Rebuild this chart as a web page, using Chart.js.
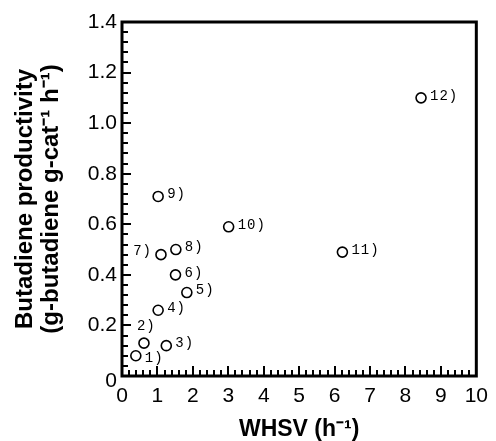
<!DOCTYPE html>
<html>
<head>
<meta charset="utf-8">
<script src="https://cdn.jsdelivr.net/npm/chart.js@4/dist/chart.umd.min.js"></script>
<style>
  html, body { margin: 0; padding: 0; background: #fff; }
  #wrap { width: 496px; height: 441px; }
</style>
</head>
<body>
<div id="wrap"><canvas id="c" width="496" height="441"></canvas></div>
<script>
// ---- data ----
const sampleLabels = ['1)', '2)', '3)', '4)', '5)', '6)', '7)', '8)', '9)', '10)', '11)', '12)'];
const whsv = [0.39, 0.62, 1.25, 1.02, 1.83, 1.51, 1.10, 1.52, 1.02, 3.01, 6.22, 8.44];
const productivity = [0.08, 0.13, 0.12, 0.26, 0.33, 0.40, 0.48, 0.50, 0.71, 0.59, 0.49, 1.10];
const xTicks = [0, 1, 2, 3, 4, 5, 6, 7, 8, 9, 10];
const yTicks = [0, 0.2, 0.4, 0.6, 0.8, 1.0, 1.2, 1.4];

// label placement relative to marker (style only)
const labelPlacement = ['belowRight', 'above', 'right', 'right', 'right', 'right', 'left', 'right', 'right', 'right', 'right', 'right'];

const FONT = '"Liberation Sans", Arial, Helvetica, sans-serif';
const LABEL_FONT = '14px "Liberation Mono", "DejaVu Sans Mono", monospace';

const frameAndTicks = {
  id: 'frameAndTicks',
  afterDatasetsDraw(chart) {
    const {ctx, chartArea: a, scales: {x, y}} = chart;
    ctx.save();
    ctx.strokeStyle = '#000';
    // minor + major ticks (inward)
    ctx.lineWidth = 2;
    ctx.beginPath();
    for (let i = 0; i <= 50; i++) {
      const v = i * 0.2;
      const px = Math.round(x.getPixelForValue(v));
      const len = (i % 5 === 0) ? 10 : 6;
      ctx.moveTo(px, a.bottom);
      ctx.lineTo(px, a.bottom - len);
    }
    for (let i = 0; i <= 35; i++) {
      const v = i * 0.04;
      const py = Math.round(y.getPixelForValue(v));
      const len = (i % 5 === 0) ? 9 : 6;
      ctx.moveTo(a.left, py);
      ctx.lineTo(a.left + len, py);
    }
    ctx.stroke();
    // frame
    ctx.lineWidth = 3;
    ctx.lineJoin = 'miter';
    ctx.strokeRect(a.left, a.top, a.right - a.left, a.bottom - a.top);

    // y-axis "0" label sits slightly below the axis in the reference
    ctx.fillStyle = '#000';
    ctx.font = '21px ' + FONT;
    ctx.textAlign = 'right';
    ctx.textBaseline = 'middle';
    ctx.fillText('0', a.left - 5, y.getPixelForValue(0) + 5);

    // point labels
    ctx.font = LABEL_FONT;
    try { ctx.letterSpacing = '1px'; } catch (e) {}
    ctx.textBaseline = 'middle';
    const meta = chart.getDatasetMeta(0);
    meta.data.forEach((pt, i) => {
      const p = labelPlacement[i];
      let tx = pt.x, ty = pt.y;
      if (p === 'right') { ctx.textAlign = 'left'; tx += 9; ty -= 2; }
      else if (p === 'left') { ctx.textAlign = 'right'; tx -= 9; ty -= 3; }
      else if (p === 'above') { ctx.textAlign = 'left'; tx -= 7; ty -= 17; }
      else if (p === 'belowRight') { ctx.textAlign = 'left'; tx += 9; ty += 3; }
      ctx.fillText(sampleLabels[i], tx, ty);
    });
    ctx.restore();
  }
};

new Chart(document.getElementById('c'), {
  type: 'scatter',
  data: {
    datasets: [{
      data: whsv.map((v, i) => ({x: v, y: productivity[i]})),
      pointStyle: 'circle',
      pointRadius: 5,
      pointHoverRadius: 5,
      borderWidth: 1.6,
      borderColor: '#000',
      backgroundColor: 'rgba(255,255,255,0)',
      clip: false
    }]
  },
  options: {
    responsive: false,
    animation: false,
    events: [],
    layout: { padding: { top: 22, right: 18, bottom: 0, left: 0 } },
    plugins: { legend: { display: false }, tooltip: { enabled: false } },
    scales: {
      x: {
        type: 'linear',
        min: 0, max: 10,
        afterBuildTicks: s => { s.ticks = xTicks.map(v => ({value: v})); },
        afterFit: s => { s.height = 65; },
        grid: { display: false, drawTicks: false },
        border: { display: false },
        ticks: {
          color: '#000',
          font: { family: FONT, size: 21 },
          padding: 8,
          maxRotation: 0,
          autoSkip: false,
          callback: v => String(v)
        },
        title: {
          display: true,
          text: 'WHSV (h\u207B\u00B9)',
          color: '#000',
          font: { family: FONT, size: 23, weight: 'bold' },
          padding: { top: 0, bottom: -2 }
        }
      },
      y: {
        type: 'linear',
        min: 0, max: 1.4,
        afterBuildTicks: s => { s.ticks = yTicks.map(v => ({value: v})); },
        afterFit: s => { s.width = 122; },
        grid: { display: false, drawTicks: false },
        border: { display: false },
        ticks: {
          color: '#000',
          font: { family: FONT, size: 21 },
          padding: 5,
          autoSkip: false,
          callback: v => v === 0 ? '' : Number(v).toFixed(1)
        },
        title: {
          display: true,
          text: ['Butadiene productivity', '(g-butadiene g-cat\u207B\u00B9 h\u207B\u00B9)'],
          color: '#000',
          font: { family: FONT, size: 24, weight: 'bold', lineHeight: 1.12 },
          padding: { top: 11.5, bottom: 0 }
        }
      }
    }
  },
  plugins: [frameAndTicks]
});
</script>
</body>
</html>
